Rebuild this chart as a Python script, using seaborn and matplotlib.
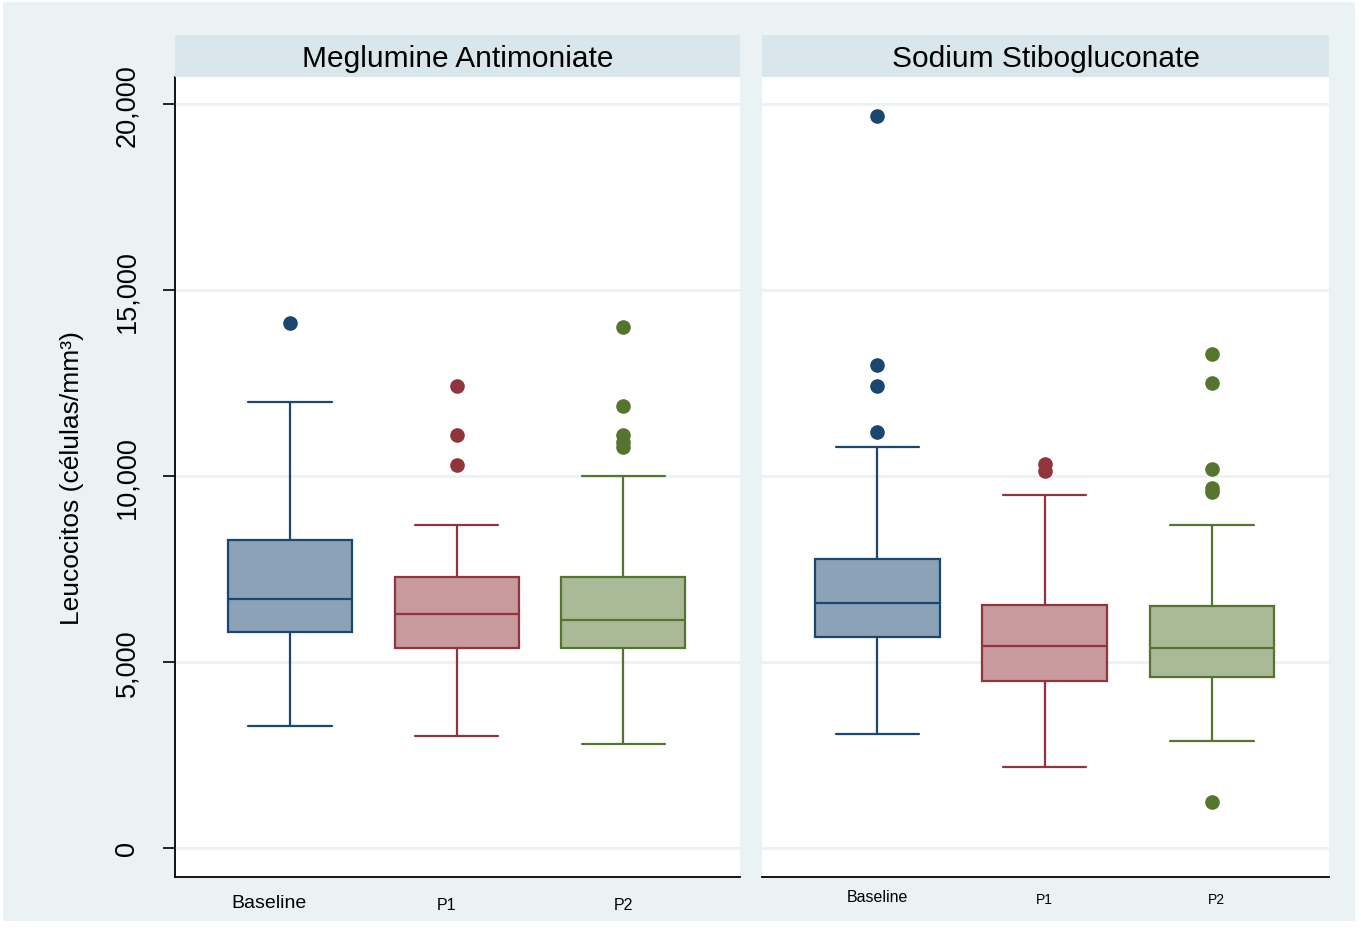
import matplotlib
matplotlib.use("Agg")
import matplotlib.pyplot as plt
import matplotlib.transforms as mtransforms
import seaborn as sns
from matplotlib.patches import Rectangle
from matplotlib.ticker import FuncFormatter

sns.set_theme(style="white")
plt.rcParams['font.family'] = ['Liberation Sans', 'DejaVu Sans']
plt.rcParams['text.color'] = 'black'
plt.rcParams['axes.labelcolor'] = 'black'
plt.rcParams['xtick.color'] = 'black'
plt.rcParams['ytick.color'] = 'black'

# ---------------- data ----------------
panels = ["Meglumine Antimoniate", "Sodium Stibogluconate"]
periods = ["Baseline", "P1", "P2"]

# Meglumine Antimoniate
ma_whislo = [3280, 3000, 2800]
ma_q1 = [5810, 5380, 5380]
ma_med = [6700, 6290, 6130]
ma_q3 = [8290, 7290, 7290]
ma_whishi = [12000, 8690, 10000]
ma_out_baseline = [14110]
ma_out_p1 = [12420, 11100, 10300]
ma_out_p2 = [14010, 11880, 11100, 10910, 10780]

# Sodium Stibogluconate
ss_whislo = [3070, 2180, 2880]
ss_q1 = [5670, 4490, 4600]
ss_med = [6590, 5430, 5380]
ss_q3 = [7770, 6530, 6510]
ss_whishi = [10780, 9490, 8690]
ss_out_baseline = [19680, 12980, 12420, 11180]
ss_out_p1 = [10320, 10130]
ss_out_p2 = [13280, 12500, 10190, 9680, 9580, 1240]

y_ticks = [0, 5000, 10000, 15000, 20000]

line_colors = ["#1A476F", "#90353B", "#55752F"]
fill_colors = ["#8CA3B7", "#C89A9D", "#AABA97"]
BG = "#EAF2F3"
STRIP = "#D9E6EB"

W, H = 1361, 929
fig = plt.figure(figsize=(W / 100, H / 100), dpi=100)
fig.patch.set_facecolor("white")
fig.patches.append(Rectangle((3 / W, 1 - 922 / H), 1352 / W, 919 / H,
                             transform=fig.transFigure, facecolor=BG,
                             edgecolor="none", zorder=-10))


def fx(px):
    return px / W


def fy(py):
    return 1 - py / H


panel_x = [(175, 740), (762, 1329)]
top_px, bot_px, strip_top = 78, 878, 36

stats_sets = [
    (ma_whislo, ma_q1, ma_med, ma_q3, ma_whishi,
     [ma_out_baseline, ma_out_p1, ma_out_p2]),
    (ss_whislo, ss_q1, ss_med, ss_q3, ss_whishi,
     [ss_out_baseline, ss_out_p1, ss_out_p2]),
]
xlabel_sizes = [(14, 11.5), (11.5, 10)]
xlabel_dx = [(-21, -10, 0), (0, 0, 5)]     # pixel nudges of the tick labels
xlabel_dy = [(-26, -28, -28), (-20, -22, -22)]

for k, (name, (x0, x1), st) in enumerate(zip(panels, panel_x, stats_sets)):
    ax = fig.add_axes([fx(x0), fy(bot_px), fx(x1 - x0), (bot_px - top_px) / H])
    ax.set_facecolor("white")
    whislo, q1, med, q3, whishi, outs = st
    for i in range(3):
        s = [dict(whislo=whislo[i], q1=q1[i], med=med[i], q3=q3[i],
                  whishi=whishi[i], fliers=outs[i], label=periods[i])]
        c = line_colors[i]
        ax.bxp(s, positions=[i], widths=0.745, patch_artist=True,
               showfliers=True, capwidths=0.5, manage_ticks=False,
               boxprops=dict(facecolor=fill_colors[i], edgecolor=c, linewidth=1.6),
               medianprops=dict(color=c, linewidth=1.6),
               whiskerprops=dict(color=c, linewidth=1.6),
               capprops=dict(color=c, linewidth=1.6),
               flierprops=dict(marker="o", markerfacecolor=c, markeredgecolor=c,
                               markersize=9.5, linestyle="none"))
    ax.set_xlim(-0.69, 2.70)
    ax.set_ylim(-780, 20730)
    ax.set_yticks(y_ticks)
    ax.yaxis.grid(True, color=BG, linewidth=2)
    ax.xaxis.grid(False)
    ax.set_axisbelow(True)
    ax.set_xticks(range(3))
    ax.set_xticklabels([])
    ax.tick_params(axis="x", length=0)
    base = ax.get_xaxis_transform()
    for j, lab in enumerate(periods):
        off = mtransforms.ScaledTranslation(xlabel_dx[k][j] / 100,
                                            xlabel_dy[k][j] / 100,
                                            fig.dpi_scale_trans)
        ax.text(j, 0, lab, transform=base + off, ha="center", va="center",
                fontsize=xlabel_sizes[k][0] if j == 0 else xlabel_sizes[k][1],
                color="black", clip_on=False)
    for sp in ["top", "right"]:
        ax.spines[sp].set_visible(False)
    ax.spines["bottom"].set_color("black")
    ax.spines["bottom"].set_linewidth(1.3)
    if k == 0:
        ax.spines["left"].set_color("black")
        ax.spines["left"].set_linewidth(1.3)
        ax.tick_params(axis="y", length=9, width=1.2, color="black",
                       left=True, pad=16, labelsize=19.5)
        ax.yaxis.set_major_formatter(FuncFormatter(lambda v, p: f"{int(v):,}"))
        for lab in ax.get_yticklabels():
            lab.set_rotation(90)
            lab.set_va("center")
            lab.set_color("black")
        ax.set_ylabel("Leucocitos (células/mm³)", fontsize=19, labelpad=22,
                      color="black")
    else:
        ax.spines["left"].set_visible(False)
        ax.tick_params(axis="y", left=False, labelleft=False)

    sax = fig.add_axes([fx(x0), fy(top_px), fx(x1 - x0), (top_px - strip_top) / H])
    sax.set_facecolor(STRIP)
    sax.set_xticks([])
    sax.set_yticks([])
    for sp in sax.spines.values():
        sp.set_visible(False)
    sax.text(0.5, 0.45, name, ha="center", va="center", fontsize=21.5,
             transform=sax.transAxes, color="black")

fig.savefig("out.png", dpi=100, facecolor=fig.get_facecolor())
